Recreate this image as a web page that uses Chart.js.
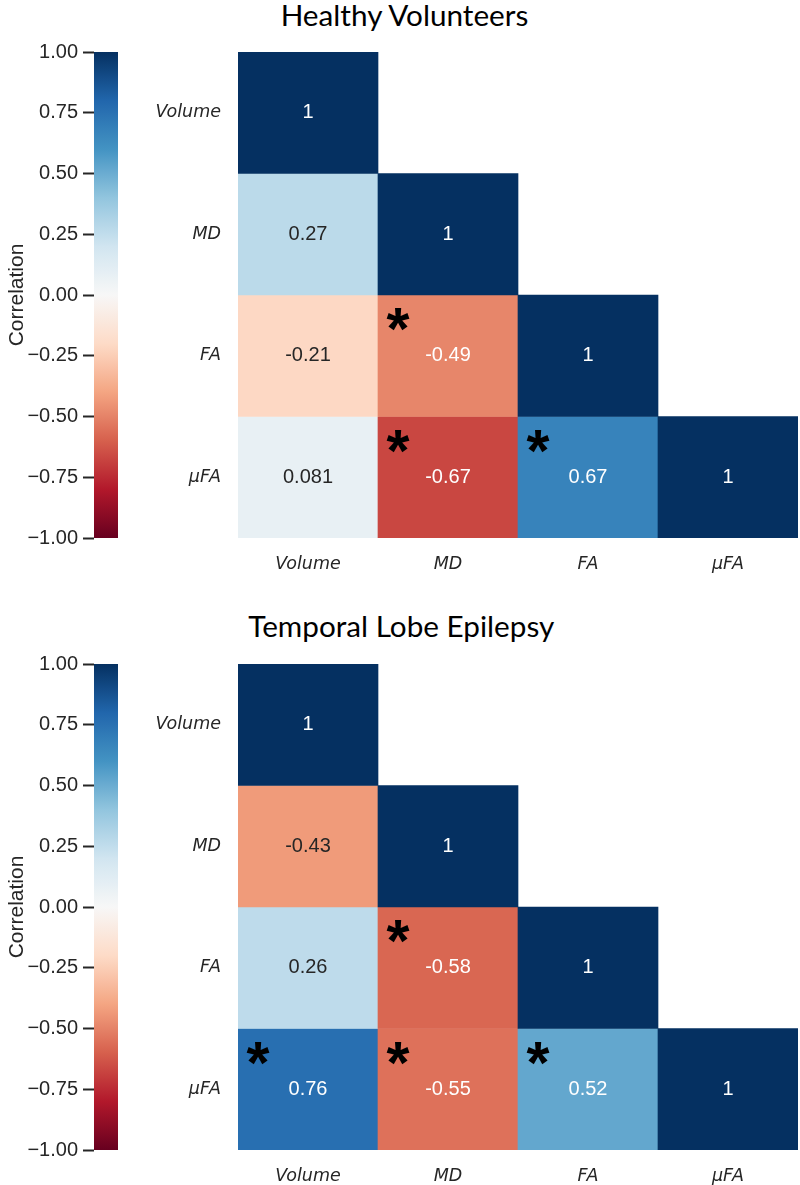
<!DOCTYPE html>
<html>
<head>
<meta charset="utf-8">
<script src="https://cdn.jsdelivr.net/npm/chart.js@4/dist/chart.umd.min.js"></script>
<style>
  html, body { margin: 0; padding: 0; background: #ffffff; }
  #wrap { position: relative; width: 800px; height: 1185px; background: #ffffff; overflow: hidden; }
  canvas { position: absolute; }
  .ttl { position: absolute; font-family: Lato, "Open Sans", sans-serif; font-size: 29.7px; color: #000; white-space: nowrap; transform: translateX(-50%); line-height: normal; }
</style>
</head>
<body>
<div id="wrap"></div>
<script>
// ---------------- data ----------------
const variables = ['Volume', 'MD', 'FA', 'μFA'];
const panelTitles = ['Healthy Volunteers', 'Temporal Lobe Epilepsy'];
const colorbarLabel = 'Correlation';
// lower-triangle correlation values (row by row)
const hvCorr  = [[1], [0.27, 1], [-0.21, -0.49, 1], [0.081, -0.67, 0.67, 1]];
const hvSig   = [[0], [0, 0], [0, 1, 0], [0, 1, 1, 0]];
const tleCorr = [[1], [-0.43, 1], [0.26, -0.58, 1], [0.76, -0.55, 0.52, 1]];
const tleSig  = [[0], [0, 0], [0, 1, 0], [1, 1, 1, 0]];
const colorbarRange = [-1, 1];
const colorbarStep = 0.25;
// RdBu colormap anchors (from -1 to 1)
const rdbuAnchors = ['#67001f', '#b2182b', '#d6604d', '#f4a582', '#fddbc7', '#f7f7f7',
                     '#d1e5f0', '#92c5de', '#4393c3', '#2166ac', '#053061'];

// ---------------- helpers ----------------
function hexToRgb(h) { return [parseInt(h.slice(1,3),16), parseInt(h.slice(3,5),16), parseInt(h.slice(5,7),16)]; }
const anchorRgb = rdbuAnchors.map(hexToRgb);
function rdbuRgb(v) {
  let t = (v + 1) / 2 * (anchorRgb.length - 1);
  t = Math.max(0, Math.min(anchorRgb.length - 1, t));
  const i = Math.min(anchorRgb.length - 2, Math.floor(t));
  const f = t - i;
  const a = anchorRgb[i], b = anchorRgb[i + 1];
  return [0,1,2].map(k => a[k] + (b[k] - a[k]) * f);
}
function rdbu(v) { const c = rdbuRgb(v); return 'rgb(' + c.map(x => Math.round(x)).join(',') + ')'; }
function luminance(v) {
  const c = rdbuRgb(v).map(x => { x /= 255; return x <= 0.03928 ? x / 12.92 : Math.pow((x + 0.055) / 1.055, 2.4); });
  return 0.2126 * c[0] + 0.7152 * c[1] + 0.0722 * c[2];
}
function fmt2g(v) { return String(Number(v.toPrecision(2))); }

const TXT = '#262626';
const SANS = '"Liberation Sans", Arial, sans-serif';
const LABEL_FONT = { family: '"DejaVu Sans", sans-serif', size: 17.5, style: 'italic' };

const wrap = document.getElementById('wrap');
function makeCanvas(left, top, w, h) {
  const c = document.createElement('canvas');
  c.width = w; c.height = h;
  c.style.left = left + 'px'; c.style.top = top + 'px';
  c.style.width = w + 'px'; c.style.height = h + 'px';
  wrap.appendChild(c);
  return c;
}

// plot area top (y of value +1 / first row) for each panel
function buildPanel(areaTop, title, titleCx, titleTop, corr, sig) {
  // title
  const t = document.createElement('div');
  t.className = 'ttl';
  t.textContent = title;
  t.style.left = titleCx + 'px';
  t.style.top = titleTop + 'px';
  wrap.appendChild(t);

  const AREA_H = 486;

  // colorbar
  const CB_PAD = 18;
  const cb = makeCanvas(0, areaTop - CB_PAD, 130, AREA_H + 2 * CB_PAD);
  new Chart(cb, {
    type: 'bar',
    data: {
      labels: [''],
      datasets: [{
        data: [colorbarRange.slice()],
        borderWidth: 0,
        barPercentage: 1,
        categoryPercentage: 1,
        backgroundColor: (ctx) => {
          const chart = ctx.chart;
          if (!chart.chartArea) return 'rgba(0,0,0,0)';
          const y = chart.scales.y;
          const g = chart.ctx.createLinearGradient(0, y.getPixelForValue(colorbarRange[0]), 0, y.getPixelForValue(colorbarRange[1]));
          const n = 40;
          for (let i = 0; i <= n; i++) {
            const v = colorbarRange[0] + (colorbarRange[1] - colorbarRange[0]) * i / n;
            g.addColorStop(i / n, rdbu(v));
          }
          return g;
        }
      }]
    },
    options: {
      responsive: false,
      animation: false,
      devicePixelRatio: 1,
      layout: { padding: { top: CB_PAD, bottom: CB_PAD, left: 0, right: 12 } },
      plugins: { legend: { display: false }, tooltip: { enabled: false } },
      scales: {
        x: { display: false },
        y: {
          min: colorbarRange[0], max: colorbarRange[1],
          ticks: {
            stepSize: colorbarStep,
            color: TXT,
            font: { family: SANS, size: 20 },
            padding: 5,
            callback: (v) => v.toFixed(2).replace('-', '\u2212')
          },
          grid: { drawOnChartArea: false, drawTicks: true, tickLength: 11, tickColor: TXT, tickWidth: 2 },
          border: { display: false },
          title: { display: true, text: colorbarLabel, color: TXT, font: { family: SANS, size: 21 }, padding: { top: 5, bottom: 1 } },
          afterFit: (s) => { s.width = 94; }
        }
      }
    }
  });

  // heatmap
  const HM_PAD = 30, XAX_H = 62;
  const hm = makeCanvas(130, areaTop - HM_PAD, 670, HM_PAD + AREA_H + XAX_H);
  const datasets = corr.map((row, r) => ({
    data: variables.map((_, c) => c < row.length ? [r, r + 1] : null),
    backgroundColor: variables.map((_, c) => c < row.length ? rdbu(row[c]) : 'rgba(0,0,0,0)'),
    borderWidth: 0,
    barPercentage: 1,
    categoryPercentage: 1,
    grouped: false
  }));
  const annot = {
    id: 'annot',
    afterDatasetsDraw(chart) {
      const ctx = chart.ctx;
      ctx.save();
      // value text
      ctx.textAlign = 'center';
      ctx.textBaseline = 'middle';
      ctx.font = '20px ' + SANS;
      corr.forEach((row, r) => {
        const meta = chart.getDatasetMeta(r);
        row.forEach((v, c) => {
          const el = meta.data[c];
          const cy = (el.y + el.base) / 2;
          ctx.fillStyle = luminance(v) > 0.408 ? TXT : '#ffffff';
          ctx.fillText(fmt2g(v), el.x, cy);
        });
      });
      // significance asterisks
      ctx.font = 'bold 100px ' + SANS;
      const m = ctx.measureText('*');
      const inkW = m.actualBoundingBoxLeft + m.actualBoundingBoxRight;
      const size = 100 * 23 / inkW;
      ctx.font = 'bold ' + size.toFixed(1) + 'px ' + SANS;
      ctx.textAlign = 'left';
      ctx.textBaseline = 'alphabetic';
      const m2 = ctx.measureText('*');
      const iw = m2.actualBoundingBoxLeft + m2.actualBoundingBoxRight;
      const ih = m2.actualBoundingBoxAscent + m2.actualBoundingBoxDescent;
      ctx.fillStyle = '#000000';
      sig.forEach((row, r) => {
        const meta = chart.getDatasetMeta(r);
        row.forEach((s, c) => {
          if (!s) return;
          const el = meta.data[c];
          const left = el.x - el.width / 2;
          const top = Math.min(el.y, el.base);
          const cx = left + 20, cy = top + 24.5;
          const x = cx - iw / 2 + m2.actualBoundingBoxLeft;
          const y = cy - ih / 2 + m2.actualBoundingBoxAscent;
          ctx.fillText('*', x, y);
        });
      });
      ctx.restore();
    }
  };
  new Chart(hm, {
    type: 'bar',
    data: { labels: variables, datasets },
    plugins: [annot],
    options: {
      responsive: false,
      animation: false,
      devicePixelRatio: 1,
      layout: { padding: { top: HM_PAD, right: 2, left: 0, bottom: 0 } },
      plugins: { legend: { display: false }, tooltip: { enabled: false } },
      scales: {
        x: {
          grid: { display: false, drawTicks: false },
          border: { display: false },
          ticks: { color: TXT, font: LABEL_FONT, padding: 16, maxRotation: 0 },
          afterFit: (s) => { s.height = XAX_H; }
        },
        y: {
          min: 0, max: variables.length, reverse: true,
          grid: { display: false, drawTicks: false },
          border: { display: false },
          afterBuildTicks: (s) => { s.ticks = variables.map((_, i) => ({ value: i + 0.5 })); },
          ticks: { color: TXT, font: LABEL_FONT, padding: 17, callback: (v, i) => variables[i] },
          afterFit: (s) => { s.width = 108; }
        }
      }
    }
  });
}

buildPanel(52, panelTitles[0], 404.5, -2.6, hvCorr, hvSig);
buildPanel(664, panelTitles[1], 401.3, 608, tleCorr, tleSig);
</script>
</body>
</html>
